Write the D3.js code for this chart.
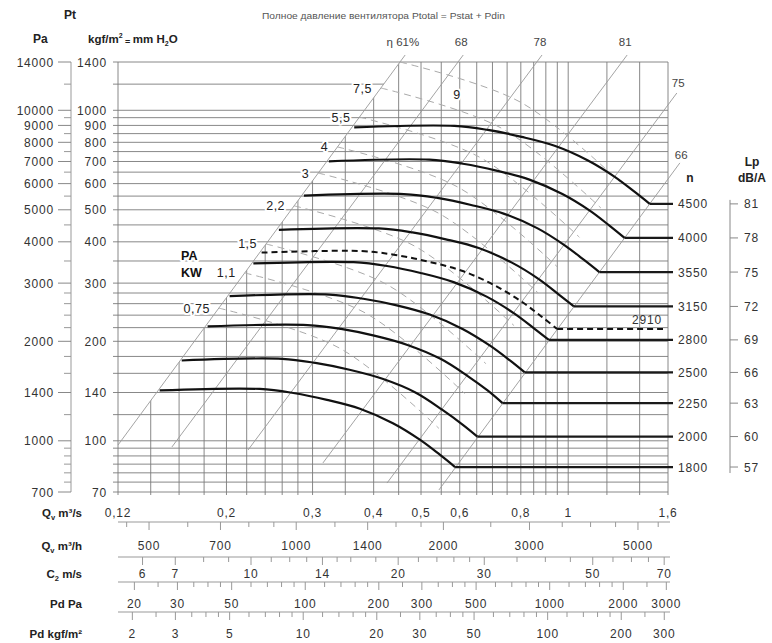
<!DOCTYPE html>
<html>
<head>
<meta charset="utf-8">
<script src="https://cdn.jsdelivr.net/npm/d3@7/dist/d3.min.js"></script>
<style>
body { margin: 0; background: #fff; }
text { font-family: "Liberation Sans", Arial, sans-serif; }
</style>
</head>
<body>
<svg id="chart" width="772" height="643"></svg>
<script>
// ---- data ----
var speeds = [1800, 2000, 2250, 2500, 2800, 3150, 3550, 4000, 4500];
var noiseLp = [57, 60, 63, 66, 69, 72, 75, 78, 81];

// fan curves, Q in m3/s, Pt in kgf/m2
var curveQ = [
  [0.146, 0.234, 0.274, 0.321, 0.375, 0.438, 0.498, 0.547, 0.587],
  [0.162, 0.260, 0.304, 0.357, 0.417, 0.487, 0.553, 0.608, 0.652],
  [0.183, 0.293, 0.343, 0.401, 0.469, 0.548, 0.623, 0.684, 0.734],
  [0.203, 0.325, 0.381, 0.446, 0.521, 0.608, 0.692, 0.760, 0.815],
  [0.227, 0.364, 0.426, 0.499, 0.583, 0.681, 0.775, 0.851, 0.913],
  [0.256, 0.410, 0.480, 0.562, 0.656, 0.767, 0.872, 0.957, 1.027],
  [0.288, 0.461, 0.540, 0.633, 0.740, 0.864, 0.982, 1.079, 1.158],
  [0.324, 0.520, 0.609, 0.713, 0.833, 0.973, 1.107, 1.216, 1.304],
  [0.365, 0.585, 0.685, 0.803, 0.938, 1.095, 1.245, 1.368, 1.468]
];
var curveP = [
  [142, 143.5, 139.5, 133, 125, 113, 100.6, 90.6, 83.3],
  [175, 177, 172, 164, 154, 140, 124, 112, 103],
  [222, 224, 218, 208, 195, 177, 157, 142, 130],
  [274, 277, 269, 257, 241, 218, 194, 175, 161],
  [344, 347, 338, 322, 302, 273, 243, 219, 202],
  [435, 439, 427, 407, 383, 346, 308, 277, 255],
  [552, 558, 543, 517, 486, 440, 391, 352, 324],
  [701, 709, 689, 657, 617, 558, 497, 447, 411],
  [888, 897, 872, 831, 781, 706, 629, 566, 521]
];
var dashedSpeed = 2910;
var dashedQ = [0.236, 0.378, 0.443, 0.519, 0.606, 0.708, 0.805, 0.884, 0.949];
var dashedP = [371, 375, 365, 348, 327, 295, 263, 237, 218];

// efficiency lines
var etaLabels = ['η 61%', '68', '78', '81', '75', '66'];
var etaQ = [[0.12, 0.464], [0.1547, 0.610], [0.2214, 0.884], [0.315, 1.320], [0.426, 1.668], [0.544, 1.692]];
var etaP = [[97.1, 1470], [95.8, 1470], [93.8, 1470], [85.7, 1470], [74.5, 1128], [71, 693]];

// motor power lines (kW)
var kwLabels = ['0,75', '1,1', '1,5', '2,2', '3', '4', '5,5', '7,5', '9'];
var kwQ = [[0.193, 0.340, 0.544], [0.218, 0.384, 0.614], [0.241, 0.424, 0.679], [0.275, 0.484, 0.775],
           [0.308, 0.542, 0.868], [0.337, 0.593, 0.950], [0.374, 0.658, 1.054], [0.414, 0.729, 1.167],
           [0.453, 0.797, 1.277]];
var kwP = [[252, 191, 109], [322, 244, 139], [394, 298, 171], [514, 389, 223], [646, 489, 280],
           [775, 587, 336], [954, 722, 413], [1168, 884, 506], [1400, 1060, 606]];

// grid and axis ticks
var gridP = [70, 75, 80, 85, 90, 95, 100, 120, 140, 160, 180, 200, 220, 240, 260, 280, 300, 350, 400, 450,
             500, 550, 600, 650, 700, 750, 800, 850, 900, 950, 1000, 1200, 1400];
var gridQ = [0.14, 0.16, 0.18, 0.2, 0.22, 0.24, 0.26, 0.28, 0.3, 0.35, 0.4, 0.45, 0.5, 0.55, 0.6, 0.65,
             0.7, 0.75, 0.8, 0.85, 0.9, 0.95, 1, 1.2, 1.4];
var kgfLabels = [1400, 1000, 900, 800, 700, 600, 500, 400, 300, 200, 140, 100, 70];
var paLabels = [14000, 10000, 9000, 8000, 7000, 6000, 5000, 4000, 3000, 2000, 1400, 1000, 700];
var paMinor = [750, 800, 850, 900, 950, 1200, 1600, 1800, 2200, 2400, 2600, 2800, 3500, 4500, 5500, 6500,
               7500, 8500, 9500, 12000];

var qsLabels = [0.12, 0.2, 0.3, 0.4, 0.5, 0.6, 0.8, 1, 1.6];
var qhTicks = [450, 500, 600, 700, 800, 900, 1000, 1200, 1400, 1600, 1800, 2000, 2500, 3000, 3500, 4000,
               4500, 5000, 5500];
var qhLabels = [500, 700, 1000, 1400, 2000, 3000, 5000];
var cTicks = [6, 7, 8, 9, 10, 11, 12, 13, 14, 15, 16, 18, 20, 22, 24, 26, 28, 30, 35, 40, 45, 50, 55, 60,
              65, 70];
var cLabels = [6, 7, 10, 14, 20, 30, 50, 70];
var pdTicks = [20, 25, 30, 35, 40, 45, 50, 60, 70, 80, 90, 100, 120, 140, 160, 180, 200, 250, 300, 350,
               400, 450, 500, 600, 700, 800, 900, 1000, 1200, 1400, 1600, 1800, 2000, 2500, 3000];
var pdLabels = [20, 30, 50, 100, 200, 300, 500, 1000, 2000, 3000];
var pkTicks = [2, 2.5, 3, 3.5, 4, 4.5, 5, 6, 7, 8, 9, 10, 12, 14, 16, 18, 20, 25, 30, 35, 40, 45, 50, 60,
               70, 80, 90, 100, 120, 140, 160, 180, 200, 250, 300];
var pkLabels = [2, 3, 5, 10, 20, 30, 50, 100, 200, 300];

// ---- scales ----
var plotL = 118, plotR = 668, plotT = 62, plotB = 492;
var x = d3.scaleLog().domain([0.12, 1.6]).range([plotL, plotR]);
var y = d3.scaleLog().domain([70, 1400]).range([plotB, plotT]);
var yPa = d3.scaleLog().domain([700, 14000]).range([plotB, plotT]);
var xQh = d3.scaleLog().domain([432, 5760]).range([plotL, plotR]);
var xC = d3.scaleLog().domain([5.345, 71.27]).range([plotL, plotR]);
var xPd = d3.scaleLog().domain([17.14, 3048]).range([plotL, plotR]);
var xPk = d3.scaleLog().domain([1.747, 310.7]).range([plotL, plotR]);

var svg = d3.select('#chart');
var ink = '#333';
var gridCol = '#7a7a7a';
function comma(v) { return String(v).replace('.', ','); }
function halo(sel) {
  return sel.attr('paint-order', 'stroke').attr('stroke', '#fff')
    .attr('stroke-width', 4).attr('stroke-linejoin', 'round');
}

// clip paths from the 61% line
var a0 = [x(etaQ[0][0]), y(etaP[0][0])], a1 = [x(etaQ[0][1]), y(etaP[0][1])];
var defs = svg.append('defs');
defs.append('clipPath').attr('id', 'below61').append('polygon')
  .attr('points', [a0, a1, [760, a1[1]], [760, 520], [90, 520], [90, a0[1]]].join(' '));
defs.append('clipPath').attr('id', 'left61').append('polygon')
  .attr('points', [[90, 30], [a1[0], 30], a1, a0, [90, a0[1]]].join(' '));

// horizontal grid
svg.append('g').selectAll('line').data(gridP).join('line')
  .attr('x1', plotL - 5).attr('x2', plotR)
  .attr('y1', function(d){ return y(d); }).attr('y2', function(d){ return y(d); })
  .attr('clip-path', function(d){ return d === 1200 ? 'url(#left61)' : null; })
  .attr('stroke', gridCol).attr('stroke-width', 0.9);

// vertical grid (only below the 61% line)
svg.append('g').attr('clip-path', 'url(#below61)').selectAll('line').data(gridQ).join('line')
  .attr('x1', function(d){ return x(d); }).attr('x2', function(d){ return x(d); })
  .attr('y1', plotT).attr('y2', plotB + 3)
  .attr('stroke', gridCol).attr('stroke-width', 0.9);

// frame sides
svg.append('line').attr('x1', plotL).attr('x2', plotL).attr('y1', plotT).attr('y2', plotB + 3)
  .attr('stroke', gridCol).attr('stroke-width', 0.9);
svg.append('line').attr('x1', plotR).attr('x2', plotR).attr('y1', plotT).attr('y2', plotB + 3)
  .attr('stroke', gridCol).attr('stroke-width', 0.9);

// efficiency lines
etaLabels.forEach(function(lab, i) {
  var p = [[etaQ[i][0], etaP[i][0]], [etaQ[i][1], etaP[i][1]]];
  svg.append('line')
    .attr('x1', x(p[0][0])).attr('y1', y(p[0][1]))
    .attr('x2', x(p[1][0])).attr('y2', y(p[1][1]))
    .attr('stroke', '#999').attr('stroke-width', 0.9);
  var ex = x(p[1][0]), ey = y(p[1][1]);
  var t = svg.append('text').attr('font-size', 11.5).attr('fill', '#444').text(lab);
  if (i === 0) t.attr('x', ex + 14).attr('y', ey - 9).attr('text-anchor', 'end');
  else if (i < 4) t.attr('x', ex - 2).attr('y', ey - 9).attr('text-anchor', 'middle');
  else t.attr('x', ex - 5).attr('y', ey - (i === 4 ? 6 : 4));
});

// power lines
var line = d3.line().x(function(d){ return x(d[0]); }).y(function(d){ return y(d[1]); })
  .curve(d3.curveCatmullRom.alpha(0.5));
kwLabels.forEach(function(lab, i) {
  var pts = d3.zip(kwQ[i], kwP[i]);
  svg.append('path').attr('d', line(pts)).attr('fill', 'none')
    .attr('stroke', '#aaa').attr('stroke-width', 1).attr('stroke-dasharray', '7,5');
});

// fan curves
var xEnd = plotR + 5;
speeds.forEach(function(n, i) {
  var pts = d3.zip(curveQ[i], curveP[i]);
  var last = pts[pts.length - 1];
  svg.append('path').attr('d', line(pts)).attr('fill', 'none')
    .attr('stroke', '#111').attr('stroke-width', 2.2);
  svg.append('line').attr('x1', x(last[0])).attr('x2', xEnd)
    .attr('y1', y(last[1])).attr('y2', y(last[1]))
    .attr('stroke', '#1a1a1a').attr('stroke-width', 2.2);
  svg.append('text').attr('x', plotR + 10).attr('y', y(last[1]) + 4.5)
    .attr('font-size', 12).attr('letter-spacing', 0.8).attr('fill', ink).text(n);
  svg.append('line').attr('x1', 730).attr('x2', 738)
    .attr('y1', y(last[1])).attr('y2', y(last[1])).attr('stroke', '#888');
  svg.append('text').attr('x', 744).attr('y', y(last[1]) + 4.5)
    .attr('font-size', 12).attr('letter-spacing', 0.8).attr('fill', ink).text(noiseLp[i]);
});
var lpTop = y(curveP[speeds.length - 1][8]), lpBot = y(curveP[0][8]);
svg.append('line').attr('x1', 730).attr('x2', 730).attr('y1', lpTop - 4).attr('y2', lpBot + 6)
  .attr('stroke', '#888');

// dashed 2910 curve
var dpts = d3.zip(dashedQ, dashedP);
var dl = dpts[dpts.length - 1];
svg.append('path').attr('d', line(dpts)).attr('fill', 'none')
  .attr('stroke', '#111').attr('stroke-width', 2).attr('stroke-dasharray', '6,4');
svg.append('line').attr('x1', x(dl[0])).attr('x2', plotR - 5)
  .attr('y1', y(dl[1])).attr('y2', y(dl[1]))
  .attr('stroke', '#111').attr('stroke-width', 2).attr('stroke-dasharray', '6,4');
svg.append('text').attr('x', plotR - 6).attr('y', y(dl[1]) - 5).attr('text-anchor', 'end')
  .attr('font-size', 12).attr('letter-spacing', 0.8).attr('fill', ink).text(dashedSpeed);

// power labels
kwLabels.forEach(function(lab, i) {
  var sx = x(kwQ[i][0]), sy = y(kwP[i][0]);
  var t = svg.append('text').attr('font-size', 12.5).attr('letter-spacing', 0.5).attr('fill', '#222').text(lab);
  if (lab === '9') t.attr('x', sx + 57).attr('y', sy + 37).attr('text-anchor', 'middle');
  else t.attr('x', sx - 9).attr('y', sy + 4.5).attr('text-anchor', 'end');
  halo(t);
});
halo(svg.append('text').attr('x', 181).attr('y', 260).attr('font-size', 12.5)
  .attr('font-weight', 'bold').attr('fill', '#111').text('PA'));
halo(svg.append('text').attr('x', 181).attr('y', 277).attr('font-size', 12.5)
  .attr('font-weight', 'bold').attr('fill', '#111').text('KW'));

// left axes
svg.append('g').selectAll('text').data(kgfLabels).join('text')
  .attr('x', 107).attr('y', function(d){ return y(d) + 4.5; }).attr('text-anchor', 'end')
  .attr('font-size', 12).attr('letter-spacing', 0.8).attr('fill', ink).text(function(d){ return d; });
svg.append('line').attr('x1', 71).attr('x2', 71).attr('y1', plotT).attr('y2', plotB).attr('stroke', '#999');
svg.append('g').selectAll('line').data(paLabels).join('line')
  .attr('x1', 58).attr('x2', 71)
  .attr('y1', function(d){ return yPa(d); }).attr('y2', function(d){ return yPa(d); }).attr('stroke', '#888');
svg.append('g').selectAll('line').data(paMinor).join('line')
  .attr('x1', 64).attr('x2', 71)
  .attr('y1', function(d){ return yPa(d); }).attr('y2', function(d){ return yPa(d); }).attr('stroke', '#999');
svg.append('g').selectAll('text').data(paLabels).join('text')
  .attr('x', 54).attr('y', function(d){ return yPa(d) + 4.5; }).attr('text-anchor', 'end')
  .attr('font-size', 12).attr('letter-spacing', 0.8).attr('fill', ink).text(function(d){ return d; });

// headers
svg.append('text').attr('x', 64).attr('y', 19).attr('font-size', 12).attr('font-weight', 'bold')
  .attr('fill', '#222').text('Pt');
svg.append('text').attr('x', 33).attr('y', 43).attr('font-size', 12).attr('font-weight', 'bold')
  .attr('fill', '#222').text('Pa');
var kh = svg.append('text').attr('x', 88).attr('y', 43).attr('font-size', 11.5).attr('font-weight', 'bold')
  .attr('fill', '#222');
kh.append('tspan').text('kgf/m');
kh.append('tspan').attr('font-size', 7).attr('dy', -5).text('2');
kh.append('tspan').attr('font-size', 9).attr('dy', 7).text(' = ');
kh.append('tspan').attr('dy', -2).text('mm H');
kh.append('tspan').attr('font-size', 7).attr('dy', 3).text('2');
kh.append('tspan').attr('dy', -3).text('O');
svg.append('text').attr('x', 262).attr('y', 19).attr('font-size', 9).attr('fill', '#555')
  .attr('textLength', 243).attr('lengthAdjust', 'spacingAndGlyphs')
  .text('Полное давление вентилятора Ptotal = Pstat + Pdin');
svg.append('text').attr('x', 690).attr('y', 182).attr('text-anchor', 'middle').attr('font-size', 12)
  .attr('font-weight', 'bold').attr('fill', '#222').text('n');
svg.append('text').attr('x', 752).attr('y', 166).attr('text-anchor', 'middle').attr('font-size', 12)
  .attr('font-weight', 'bold').attr('fill', '#222').text('Lp');
svg.append('text').attr('x', 752).attr('y', 182).attr('text-anchor', 'middle').attr('font-size', 12)
  .attr('font-weight', 'bold').attr('fill', '#222').text('dB/A');

// bottom scales
svg.append('g').selectAll('text').data(qsLabels).join('text')
  .attr('x', function(d){ return x(d); }).attr('y', 517).attr('text-anchor', 'middle')
  .attr('font-size', 12).attr('letter-spacing', 0.8).attr('fill', ink).text(comma);

function row(scale, lineY, ticks, labels, labelY) {
  var g = svg.append('g');
  g.append('line').attr('x1', plotL).attr('x2', plotR + 2).attr('y1', lineY).attr('y2', lineY)
    .attr('stroke', '#999');
  g.selectAll('line.t').data(ticks).join('line').attr('class', 't')
    .attr('x1', function(d){ return scale(d); }).attr('x2', function(d){ return scale(d); })
    .attr('y1', lineY).attr('y2', function(d){ return lineY + (labels.indexOf(d) >= 0 ? 8 : 5); })
    .attr('stroke', '#999');
  g.selectAll('text').data(labels).join('text')
    .attr('x', function(d){ return scale(d); }).attr('y', labelY).attr('text-anchor', 'middle')
    .attr('font-size', 12).attr('letter-spacing', 0.8).attr('fill', ink).text(function(d){ return d; });
}
row(xQh, 522, qhTicks, qhLabels, 550);
row(xC, 557, cTicks, cLabels, 578);
row(xPd, 582, pdTicks, pdLabels, 608);
row(xPk, 612, pkTicks, pkLabels, 638);

function rowTitle(yy, parts) {
  var t = svg.append('text').attr('x', 82).attr('y', yy).attr('text-anchor', 'end')
    .attr('font-size', 11.5).attr('font-weight', 'bold').attr('fill', '#222');
  parts.forEach(function(p) {
    var s = t.append('tspan').text(p[0]);
    if (p[1]) s.attr('font-size', 7.5).attr('dy', p[1]);
    if (p[2]) s.attr('dy', p[2]);
  });
}
rowTitle(517, [['Q'], ['v', 3], [' m³/s', 0, -3]]);
rowTitle(550, [['Q'], ['v', 3], [' m³/h', 0, -3]]);
rowTitle(578, [['C'], ['2', 3], [' m/s', 0, -3]]);
rowTitle(608, [['Pd Pa']]);
rowTitle(638, [['Pd kgf/m²']]);
</script>
</body>
</html>
